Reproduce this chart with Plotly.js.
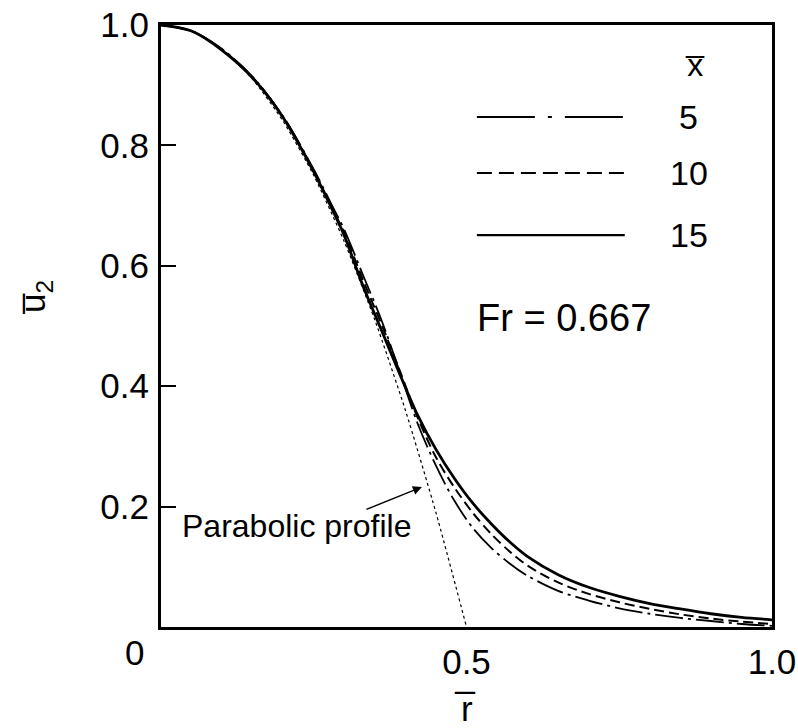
<!DOCTYPE html>
<html>
<head>
<meta charset="utf-8">
<script src="https://cdn.plot.ly/plotly-3.0.1.min.js"></script>
<style>html,body{margin:0;padding:0;background:#fff;}#chart{width:798px;height:728px;}</style>
</head>
<body>
<div id="chart"></div>
<script>
// Radial position r̄ (shared grid for the three computed profiles)
const rGrid = [0, 0.05, 0.10, 0.15, 0.20, 0.25, 0.28, 0.30, 0.33, 0.36, 0.39, 0.42, 0.45, 0.48, 0.51, 0.54, 0.57, 0.60, 0.65, 0.70, 0.75, 0.80, 0.85, 0.90, 0.95, 1.00];
// x̄ = 5 (dash-dot)
const u_x5  = [1.0, 0.990, 0.960, 0.914, 0.848, 0.760, 0.700, 0.660, 0.586, 0.512, 0.426, 0.338, 0.268, 0.210, 0.165, 0.132, 0.106, 0.085, 0.060, 0.044, 0.031, 0.022, 0.015, 0.010, 0.005, 0.002];
// x̄ = 10 (dashed)
const u_x10 = [1.0, 0.990, 0.959, 0.913, 0.847, 0.758, 0.696, 0.655, 0.578, 0.505, 0.428, 0.348, 0.282, 0.232, 0.190, 0.155, 0.126, 0.102, 0.074, 0.055, 0.041, 0.030, 0.021, 0.014, 0.009, 0.005];
// x̄ = 15 (solid)
const u_x15 = [1.0, 0.990, 0.958, 0.912, 0.846, 0.756, 0.694, 0.650, 0.568, 0.495, 0.422, 0.352, 0.295, 0.247, 0.206, 0.172, 0.142, 0.117, 0.087, 0.066, 0.051, 0.039, 0.030, 0.022, 0.016, 0.012];
// Parabolic profile (dotted)
const rPara = [0, 0.05, 0.10, 0.15, 0.20, 0.25, 0.30, 0.35, 0.40, 0.45, 0.50];
const uPara = [1.0, 0.99, 0.96, 0.91, 0.84, 0.75, 0.64, 0.51, 0.36, 0.19, 0.0];
// Tick labels
const xTickVals = [0.5, 1.0];
const xTickText = ["0.5", "1.0"];
const yTickVals = [0.2, 0.4, 0.6, 0.8, 1.0];
const yTickText = ["0.2", "0.4", "0.6", "0.8", "1.0"];
// Legend entries
const legendLabels = ["5", "10", "15"];

const FONT = "Liberation Sans, Arial, Helvetica, sans-serif";

const traces = [
  {x: rPara, y: uPara, mode: "lines", line: {color: "#000", width: 1.2, dash: "3px,3px", shape: "spline", smoothing: 0.6}, showlegend: false, hoverinfo: "skip"},
  {x: rGrid, y: u_x5, mode: "lines", line: {color: "#000", width: 1.8, dash: "28px,5px,3px,5px", shape: "spline", smoothing: 0.9}, showlegend: false},
  {x: rGrid, y: u_x10, mode: "lines", line: {color: "#000", width: 2, dash: "10px,5px", shape: "spline", smoothing: 0.9}, showlegend: false},
  {x: rGrid, y: u_x15, mode: "lines", line: {color: "#000", width: 2.8, shape: "spline", smoothing: 0.9}, showlegend: false}
];

const legY = [0.847, 0.754, 0.651];
const legDash = ["58px,13px,4px,13px", "15px,7px", "solid"];
const legW = [2, 2, 2.2];
const shapes = legY.map((yy, i) => ({
  type: "line", xref: "paper", yref: "paper", x0: 0.517, x1: 0.759, y0: yy, y1: yy,
  line: {color: "#000", width: legW[i], dash: legDash[i]}
}));

const ann = [];
legendLabels.forEach((t, i) => ann.push({
  xref: "paper", yref: "paper", x: 0.864, y: legY[i], text: t, showarrow: false,
  font: {family: FONT, size: 34, color: "#000"}, xanchor: "center", yanchor: "middle"
}));
ann.push({xref: "paper", yref: "paper", x: 0.874, y: 0.933, text: "x\u0305", showarrow: false,
  font: {family: FONT, size: 32, color: "#000"}, xanchor: "center", yanchor: "middle"});
ann.push({xref: "paper", yref: "paper", x: 0.659, y: 0.513, text: "Fr = 0.667", showarrow: false,
  font: {family: FONT, size: 38, color: "#000"}, xanchor: "center", yanchor: "middle"});
ann.push({xref: "paper", yref: "paper", x: 0.221, y: 0.168, text: "Parabolic profile", showarrow: false,
  font: {family: FONT, size: 32, color: "#000"}, xanchor: "center", yanchor: "middle"});
ann.push({xref: "x", yref: "y", x: 0.427, y: 0.2326, ax: -57, ay: 23, text: "", showarrow: true,
  arrowhead: 2, arrowsize: 1.2, arrowwidth: 1.5, arrowcolor: "#000", standoff: 0});
ann.push({xref: "paper", yref: "paper", x: -0.044, y: -0.043, text: "0", showarrow: false,
  font: {family: FONT, size: 35, color: "#000"}, xanchor: "center", yanchor: "middle"});
ann.push({xref: "paper", yref: "paper", x: -0.206, y: 0.547, text: "u\u0305<sub>2</sub>", textangle: -90, showarrow: false,
  font: {family: FONT, size: 35, color: "#000"}, xanchor: "center", yanchor: "middle"});
ann.push({xref: "paper", yref: "paper", x: 0.4975, y: -0.135, text: "r\u0305", showarrow: false,
  font: {family: FONT, size: 35, color: "#000"}, xanchor: "center", yanchor: "middle"});

const layout = {
  width: 798, height: 728,
  margin: {l: 161, r: 26, t: 25, b: 101, pad: 0},
  paper_bgcolor: "#fff", plot_bgcolor: "#fff",
  showlegend: false,
  font: {family: FONT, color: "#000"},
  xaxis: {range: [0, 1], showgrid: false, zeroline: false, showline: true, mirror: true,
    linecolor: "#000", linewidth: 3, tickmode: "array", tickvals: xTickVals, ticktext: xTickText,
    ticks: "", ticklabelstandoff: 2, tickfont: {family: FONT, size: 35, color: "#000"}},
  yaxis: {range: [0, 1], showgrid: false, zeroline: false, showline: true, mirror: true,
    linecolor: "#000", linewidth: 3, tickmode: "array", tickvals: yTickVals, ticktext: yTickText,
    ticks: "inside", ticklen: 15, tickwidth: 2, tickcolor: "#000", ticklabelstandoff: 2,
    tickfont: {family: FONT, size: 35, color: "#000"}},
  shapes: shapes,
  annotations: ann
};

Plotly.newPlot("chart", traces, layout, {staticPlot: true, displayModeBar: false});
</script>
</body>
</html>
